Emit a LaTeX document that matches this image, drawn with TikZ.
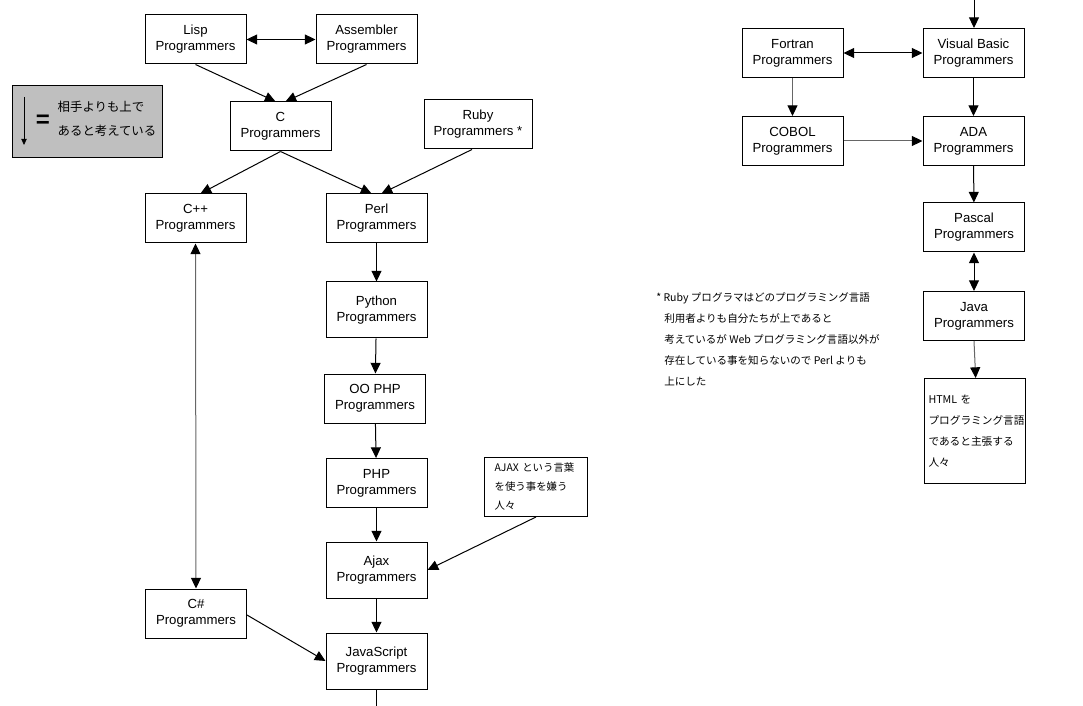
\documentclass[tikz,border=0pt]{standalone}
\usepackage{fontspec}
\setmainfont{Liberation Sans}
\newfontfamily\jp{Noto Sans CJK JP}
\usetikzlibrary{arrows.meta,calc}
\begin{document}
\begin{tikzpicture}[x=0.75pt,y=-0.75pt,
  box/.style={draw, line width=0.75pt, minimum width=75.75pt, minimum height=36.75pt,
    inner sep=0pt, align=center, font=\fontsize{9.9}{12}\selectfont},
  tall/.style={minimum height=42pt},
  con/.style={line width=0.75pt, -{Triangle[length=8pt,width=7.5pt,color=black]}},
  dcon/.style={line width=0.75pt, {Triangle[length=8pt,width=7.5pt,color=black]}-{Triangle[length=8pt,width=7.5pt,color=black]}},
  dim/.style={draw=black!60},
  note/.style={draw, line width=0.75pt, align=left, anchor=north west, inner ysep=0pt}
]
\useasboundingbox (0,0) rectangle (1083,706);

% legend
\node[draw, line width=0.75pt, fill=black!25, minimum width=112.5pt, minimum height=54pt, anchor=north west, inner sep=0pt] (legend) at (12,85) {};
\coordinate (la) at (24,97);
\coordinate (lb) at (24,145);
\draw[line width=0.6pt, -{Triangle[length=4.5pt,width=4pt]}] (la) -- (lb);
\node[font=\bfseries\fontsize{18}{18}\selectfont, inner sep=0pt] (eq) at (43,121) {=};
\node[font=\jp\fontsize{9.3}{18}\selectfont, align=left, inner sep=0pt] (legtext) at (107,118.5) {相手よりも上で\\あると考えている};

% left tree
\node[box] (lisp) at (195.5,39.5) {Lisp\\Programmers};
\node[box] (asm) at (366.5,39.5) {Assembler\\Programmers};
\node[box] (c) at (280.5,126.5) {C\\Programmers};
\node[box, minimum width=81pt] (ruby) at (478,124.5) {Ruby\\Programmers *};
\node[box] (cpp) at (195.5,218.5) {C++\\Programmers};
\node[box] (perl) at (376.5,218.5) {Perl\\Programmers};
\node[box, tall] (python) at (376.5,310) {Python\\Programmers};
\node[box] (oophp) at (375,398.5) {OO PHP\\Programmers};
\node[box] (php) at (376.5,483) {PHP\\Programmers};
\node[box, tall] (ajax) at (376.5,570) {Ajax\\Programmers};
\node[box] (csharp) at (196,613.5) {C\#\\Programmers};
\node[box, tall] (js) at (376.5,661) {JavaScript\\Programmers};
\node[note, minimum width=77.25pt, minimum height=44.25pt, text width=62pt, inner xsep=7.5pt,
  font=\jp\fontsize{7.8}{14.25}\selectfont] (ajaxnote) at (484,457) {AJAX という言葉\\を使う事を嫌う\\人々};
\coordinate (jsout) at (376.5,706);

\draw[dcon] (lisp.east) -- (asm.west);
\draw[con] (lisp.south) -- ($(c.north)+(-5,0)$);
\draw[con] (asm.south) -- ($(c.north)+(5,0)$);
\draw[con] (c.south) -- ($(cpp.north)+(5,0)$);
\draw[con] (c.south) -- ($(perl.north)+(-5,0)$);
\draw[con] ($(ruby.south)+(-6,0)$) -- ($(perl.north)+(5,0)$);
\draw[con] (perl) -- (python);
\draw[con] (python) -- (oophp);
\draw[con] (oophp) -- (php);
\draw[con] (php) -- (ajax);
\draw[con] (ajax) -- (js);
\draw[con] (ajaxnote.south) -- (ajax.east);
\draw[dcon, dim] (cpp.south) -- (csharp.north);
\draw[con] ($(csharp.east)+(0,1.5)$) -- (js.west);
\draw[line width=0.75pt] (js.south) -- (jsout);

% right tree
\coordinate (topin) at (974,0);
\node[box] (fortran) at (792.5,53) {Fortran\\Programmers};
\node[box] (vb) at (973.5,53) {Visual Basic\\Programmers};
\node[box] (cobol) at (792.5,141) {COBOL\\Programmers};
\node[box] (ada) at (973.5,141) {ADA\\Programmers};
\node[box] (pascal) at (974,227.5) {Pascal\\Programmers};
\node[box] (java) at (974,316) {Java\\Programmers};
\node[note, minimum width=75.75pt, minimum height=78.75pt, text width=70pt, inner xsep=3pt,
  font=\jp\fontsize{8}{15.75}\selectfont] (html) at (924,378) {HTML を\\プログラミング言語\\であると主張する\\人々};

\draw[con] (topin) -- (topin |- vb.north);
\draw[dcon] (fortran.east) -- (vb.west);
\draw[con, dim] (fortran) -- (cobol);
\draw[con, dim] (cobol) -- (ada);
\draw[con] (vb) -- (ada);
\draw[con] (ada) -- (pascal);
\draw[dcon] (pascal) -- (java);
\draw[con, dim] (java.south) -- ($(html.north)+(0.5,0)$);

% footnote
\node[font=\jp\fontsize{7.9}{15.75}\selectfont, align=left, anchor=west, inner sep=0pt] (foot) at (656,339)
{* Ruby プログラマはどのプログラミング言語\\
\hspace*{6pt}利用者よりも自分たちが上であると\\
\hspace*{6pt}考えているが Web プログラミング言語以外が\\
\hspace*{6pt}存在している事を知らないので Perl よりも\\
\hspace*{6pt}上にした};
\end{tikzpicture}
\end{document}
